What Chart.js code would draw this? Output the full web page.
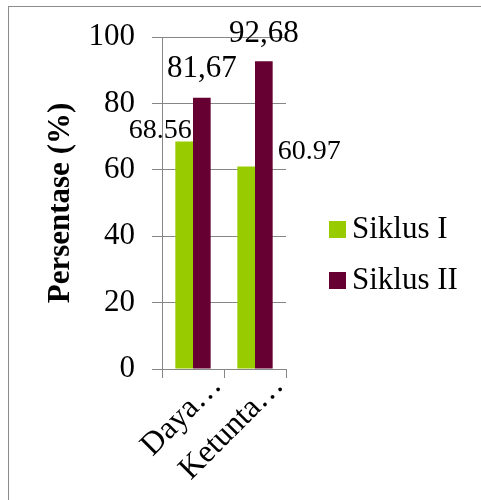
<!DOCTYPE html>
<html>
<head>
<meta charset="utf-8">
<script src="https://cdn.jsdelivr.net/npm/chart.js@4"></script>
<style>
  body { margin: 0; background: #fff; }
  #wrap { position: relative; width: 481px; height: 500px; overflow: hidden; }
  #frame { position: absolute; left: 8px; top: 6px; width: 600px; height: 600px; border: 1px solid #8c8c8c; }
  #grafik { position: absolute; left: 0; top: 0; }
</style>
</head>
<body>
<div id="wrap">
  <div id="frame"></div>
  <canvas id="grafik" width="481" height="500"></canvas>
</div>
<script>
const kategori = ['Daya…', 'Ketunta…'];
const namaSeri = ['Siklus I', 'Siklus II'];
const siklus1 = [68.56, 60.97];
const siklus2 = [81.67, 92.68];
const labelSiklus1 = ['68.56', '60.97'];
const labelSiklus2 = ['81,67', '92,68'];
const sumbuY = { min: 0, max: 100, step: 20 };

const warna = ['#99CC00', '#660033'];
const abu = '#868686';
const serif = "'Liberation Serif', 'Times New Roman', serif";

// posisi label data relatif ke puncak batang (dx, dy, ukuran font)
const posLabel = [
  [[-24, -11, 28], [63, -15, 28]],
  [[0, -29, 31], [0, -27, 31]]
];

const labelData = {
  id: 'labelData',
  afterDatasetsDraw(chart) {
    const ctx = chart.ctx;
    const teks = [labelSiklus1, labelSiklus2];
    ctx.save();
    ctx.fillStyle = '#000';
    ctx.textAlign = 'center';
    ctx.textBaseline = 'middle';
    chart.data.datasets.forEach((ds, i) => {
      chart.getDatasetMeta(i).data.forEach((bar, j) => {
        const [dx, dy, size] = posLabel[i][j];
        ctx.font = size + 'px ' + serif;
        ctx.fillText(teks[i][j], bar.x + dx, bar.y + dy);
      });
    });
    ctx.restore();
  }
};

const legenda = {
  id: 'legenda',
  afterDraw(chart) {
    const ctx = chart.ctx;
    const x = chart.chartArea.right + 43;
    ctx.save();
    ctx.font = '31px ' + serif;
    ctx.textBaseline = 'middle';
    chart.data.datasets.forEach((ds, i) => {
      const y = 229 + i * 51;
      ctx.fillStyle = ds.backgroundColor;
      ctx.fillRect(x, y - 8, 17, 17);
      ctx.fillStyle = '#000';
      ctx.fillText(ds.label, x + 23, y + 1);
    });
    ctx.restore();
  }
};

new Chart(document.getElementById('grafik'), {
  type: 'bar',
  data: {
    labels: kategori,
    datasets: [
      { label: namaSeri[0], data: siklus1, backgroundColor: warna[0] },
      { label: namaSeri[1], data: siklus2, backgroundColor: warna[1] }
    ]
  },
  options: {
    responsive: false,
    animation: false,
    layout: { padding: { top: 37, right: 195, left: 0, bottom: 0 } },
    datasets: { bar: { barPercentage: 1, categoryPercentage: 0.57 } },
    plugins: {
      legend: { display: false },
      tooltip: { enabled: false }
    },
    scales: {
      x: {
        grid: { offset: true, drawOnChartArea: false, drawTicks: true, tickLength: 9, color: abu },
        border: { color: abu },
        ticks: {
          autoSkip: false, minRotation: 45, maxRotation: 45, labelOffset: 24, padding: -11,
          color: '#000', font: { family: serif, size: 32 }
        },
        afterFit: s => { s.height = 131; }
      },
      y: {
        min: sumbuY.min, max: sumbuY.max,
        grid: { color: abu, tickLength: 10 },
        border: { color: abu },
        ticks: { stepSize: sumbuY.step, padding: 17, color: '#000', font: { family: serif, size: 31 } },
        title: {
          display: true, text: 'Persentase (%)', color: '#000',
          font: { family: serif, size: 31, weight: 'bold' },
          padding: { top: 42, bottom: 0 }
        },
        afterFit: s => { s.width = 162; }
      }
    }
  },
  plugins: [labelData, legenda]
});
</script>
</body>
</html>
